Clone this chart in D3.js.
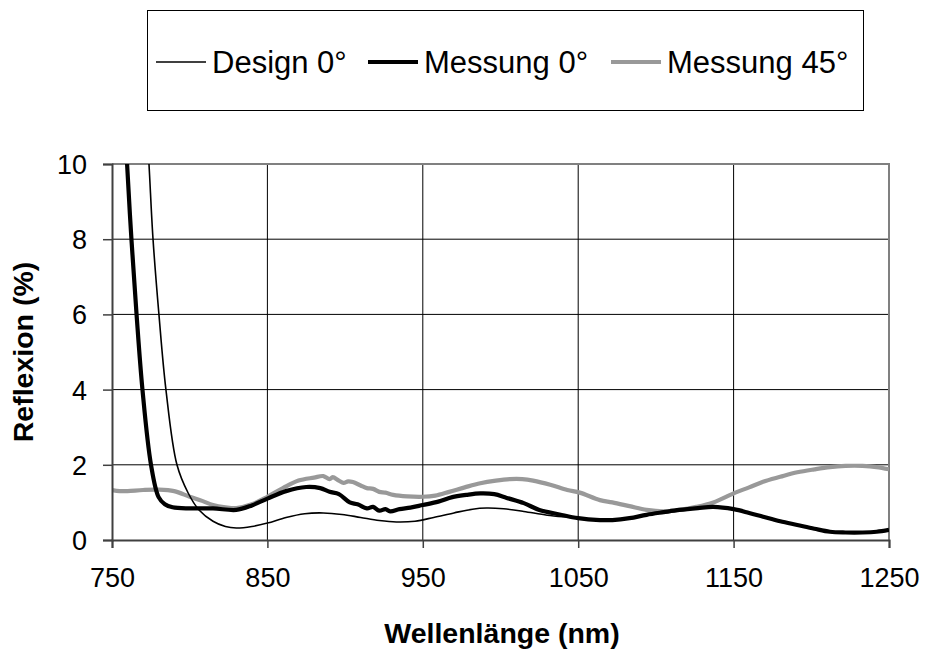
<!DOCTYPE html>
<html>
<head>
<meta charset="utf-8">
<script src="https://cdn.jsdelivr.net/npm/d3@7"></script>
<style>
  body { margin: 0; background: #fff; }
  svg { display: block; font-family: "Liberation Sans", Arial, sans-serif; }
</style>
</head>
<body>
<svg width="926" height="653"></svg>
<script>
// Wellenlänge (nm) / Reflexion (%)
const designX = [768, 771, 773.8, 776.4, 780.2, 784.7, 791.8, 799, 806, 815, 823, 830, 840, 850, 862, 874, 886, 898, 910, 922, 933, 945, 957, 970, 982, 991, 1002, 1015, 1030, 1045, 1055, 1070, 1090];
const designY = [15, 12, 10, 8, 6, 4, 2, 1.25, 0.8, 0.5, 0.36, 0.32, 0.36, 0.45, 0.6, 0.7, 0.72, 0.68, 0.6, 0.52, 0.48, 0.5, 0.6, 0.72, 0.82, 0.85, 0.83, 0.76, 0.66, 0.6, 0.56, 0.53, 0.62];

const mess0X = [754, 757, 759.7, 762.5, 765.8, 769.6, 775.1, 780, 784, 789, 800, 815, 830, 840, 850, 862, 875, 884, 890, 896, 903, 908, 914, 918, 922, 926, 929, 935, 942, 950, 960, 969, 978, 987, 996, 1004, 1015, 1025, 1038, 1050, 1064, 1072, 1083, 1094, 1105, 1115, 1127, 1137, 1150, 1160, 1169, 1180, 1191, 1202, 1212, 1222, 1233, 1242, 1250];
const mess0Y = [15, 12.2, 10, 8, 6, 4, 2, 1.14, 0.95, 0.87, 0.84, 0.84, 0.8, 0.92, 1.1, 1.3, 1.41, 1.38, 1.28, 1.22, 1.0, 0.95, 0.84, 0.88, 0.78, 0.82, 0.76, 0.82, 0.86, 0.93, 1.02, 1.14, 1.2, 1.24, 1.22, 1.12, 0.98, 0.8, 0.68, 0.58, 0.53, 0.53, 0.58, 0.67, 0.74, 0.8, 0.85, 0.88, 0.82, 0.72, 0.62, 0.5, 0.4, 0.3, 0.22, 0.2, 0.2, 0.22, 0.27];

const mess45X = [750, 755, 760, 770, 780, 790, 800, 808, 815, 823, 830, 840, 850, 860, 870, 880, 886, 890, 892, 896, 899, 902, 905, 910, 914, 918, 922, 926, 931, 940, 950, 958, 967, 977, 987, 997, 1006, 1014, 1021, 1032, 1043, 1051, 1064, 1072, 1083, 1094, 1105, 1115, 1126, 1137, 1150, 1160, 1169, 1180, 1191, 1202, 1212, 1222, 1233, 1242, 1250];
const mess45Y = [1.33, 1.3, 1.3, 1.33, 1.34, 1.3, 1.15, 1.04, 0.93, 0.87, 0.85, 0.95, 1.15, 1.38, 1.58, 1.66, 1.7, 1.62, 1.67, 1.58, 1.52, 1.56, 1.54, 1.45, 1.38, 1.36, 1.28, 1.26, 1.2, 1.16, 1.15, 1.18, 1.28, 1.4, 1.51, 1.58, 1.62, 1.62, 1.58, 1.47, 1.33, 1.26, 1.06, 1.0, 0.9, 0.8, 0.76, 0.8, 0.88, 1.0, 1.24, 1.4, 1.55, 1.68, 1.8, 1.88, 1.94, 1.97, 1.97, 1.94, 1.88];

const xTicks = [750, 850, 950, 1050, 1150, 1250];
const yTicks = [0, 2, 4, 6, 8, 10];

const series = [
  { name: "Design 0°", xs: designX, ys: designY, color: "#000", width: 1.6 },
  { name: "Messung 0°", xs: mess0X, ys: mess0Y, color: "#000", width: 4.2 },
  { name: "Messung 45°", xs: mess45X, ys: mess45Y, color: "#999", width: 4.2 }
];

const svg = d3.select("svg");
const pl = 112, pr = 889, pt = 164, pb = 540;

const x = d3.scaleLinear().domain([750, 1250]).range([pl, pr]);
const y = d3.scaleLinear().domain([0, 10]).range([pb, pt]);

// Gitterlinien
svg.append("g")
  .selectAll("line")
  .data(yTicks.slice(1, -1))
  .join("line")
  .attr("x1", pl).attr("x2", pr)
  .attr("y1", d => y(d)).attr("y2", d => y(d))
  .attr("stroke", "#000").attr("stroke-width", 1);

svg.append("g")
  .selectAll("line")
  .data(xTicks.slice(1, -1))
  .join("line")
  .attr("y1", pt).attr("y2", pb)
  .attr("x1", d => x(d)).attr("x2", d => x(d))
  .attr("stroke", "#000").attr("stroke-width", 1);

// Rahmen oben/rechts grau
svg.append("path")
  .attr("d", `M${pl},${pt}H${pr}V${pb}`)
  .attr("fill", "none").attr("stroke", "#808080").attr("stroke-width", 2);

svg.append("clipPath").attr("id", "clip")
  .append("rect").attr("x", pl).attr("y", pt).attr("width", pr - pl).attr("height", pb - pt);

const line = d3.line()
  .x(d => x(d[0]))
  .y(d => y(d[1]))
  .curve(d3.curveCatmullRom.alpha(0.5));

svg.append("g").attr("clip-path", "url(#clip)")
  .selectAll("path")
  .data(series.slice().reverse())
  .join("path")
  .attr("fill", "none")
  .attr("stroke", d => d.color)
  .attr("stroke-width", d => d.width)
  .attr("stroke-linejoin", "round")
  .attr("d", d => line(d.xs.map((v, i) => [v, d.ys[i]])));

// Achsen
const xAxis = svg.append("g")
  .attr("transform", `translate(0,${pb})`)
  .call(d3.axisBottom(x).tickValues(xTicks).tickSize(8).tickPadding(20).tickFormat(d3.format("d")));
const yAxis = svg.append("g")
  .attr("transform", `translate(${pl},0)`)
  .call(d3.axisLeft(y).tickValues(yTicks).tickSize(9).tickPadding(16).tickFormat(d3.format("d")));

[xAxis, yAxis].forEach(a => {
  a.select(".domain").attr("stroke", "#404040").attr("stroke-width", 2);
  a.selectAll(".tick line").attr("stroke", "#404040").attr("stroke-width", 1.5);
  a.selectAll("text").attr("fill", "#000").style("font-size", "27px")
    .style("font-family", '"Liberation Sans", Arial, sans-serif');
});
xAxis.selectAll("text").attr("dy", "0.71em");
yAxis.selectAll("text").attr("dy", "0.35em");

svg.append("text")
  .attr("x", 502).attr("y", 643)
  .attr("text-anchor", "middle")
  .style("font-size", "28.5px").style("font-weight", "bold")
  .text("Wellenlänge (nm)");

svg.append("text")
  .attr("transform", "translate(33,352) rotate(-90)")
  .attr("text-anchor", "middle")
  .style("font-size", "28.5px").style("font-weight", "bold")
  .text("Reflexion (%)");

// Legende
const legend = svg.append("g");
legend.append("rect")
  .attr("x", 147.5).attr("y", 10.5).attr("width", 716).attr("height", 100)
  .attr("fill", "#fff").attr("stroke", "#000").attr("stroke-width", 1);

const legendX = [156, 368, 611];
const item = legend.selectAll("g.item")
  .data(series)
  .join("g")
  .attr("transform", (d, i) => `translate(${legendX[i]},0)`);
item.append("line")
  .attr("x1", 0).attr("x2", 50).attr("y1", 62).attr("y2", 62)
  .attr("stroke", d => d.color).attr("stroke-width", d => d.width);
item.append("text")
  .attr("x", 56).attr("y", 73)
  .style("font-size", "31px")
  .text(d => d.name);
</script>
</body>
</html>
